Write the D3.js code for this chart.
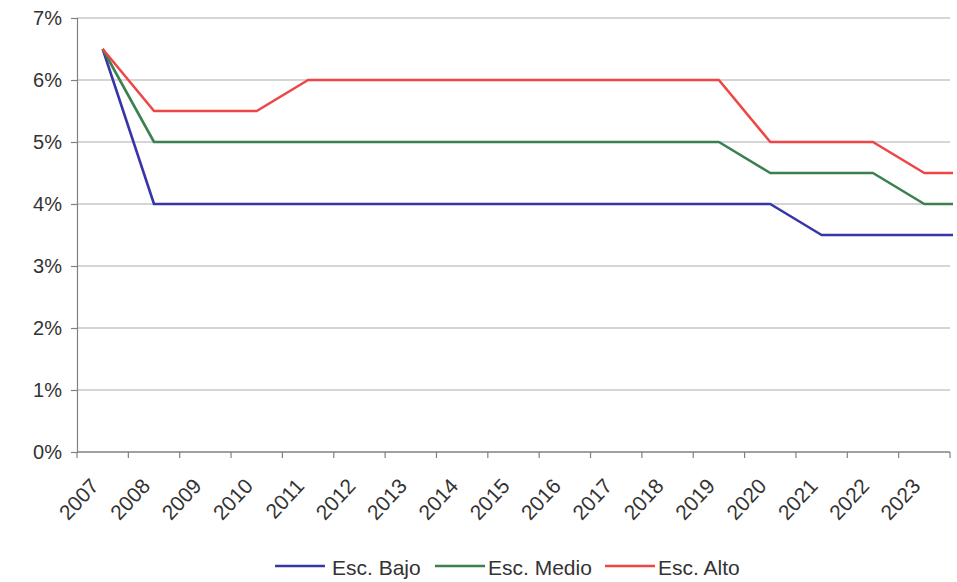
<!DOCTYPE html>
<html>
<head>
<meta charset="utf-8">
<script src="https://cdn.jsdelivr.net/npm/d3@7"></script>
<style>
  html, body { margin: 0; padding: 0; background: #fff; }
  svg { display: block; font-family: "Liberation Sans", Arial, sans-serif; }
</style>
</head>
<body>
<svg id="chart" width="957" height="582"></svg>
<script>
// Years on the category axis
const years = ["2007","2008","2009","2010","2011","2012","2013","2014","2015","2016","2017","2018","2019","2020","2021","2022","2023"];

// Scenario rates (%)
const bajo  = [6.5, 4.0, 4.0, 4.0, 4.0, 4.0, 4.0, 4.0, 4.0, 4.0, 4.0, 4.0, 4.0, 4.0, 3.5, 3.5, 3.5];
const medio = [6.5, 5.0, 5.0, 5.0, 5.0, 5.0, 5.0, 5.0, 5.0, 5.0, 5.0, 5.0, 5.0, 4.5, 4.5, 4.5, 4.0];
const alto  = [6.5, 5.5, 5.5, 5.5, 6.0, 6.0, 6.0, 6.0, 6.0, 6.0, 6.0, 6.0, 6.0, 5.0, 5.0, 5.0, 4.5];

const seriesNames = ["Esc. Bajo", "Esc. Medio", "Esc. Alto"];
const yTicks = [0, 1, 2, 3, 4, 5, 6, 7];

const colors = ["#3636a8", "#3a8050", "#ee4646"];
const series = [bajo, medio, alto];

const svg = d3.select("#chart");
const plotLeft = 77, plotRight = 950, plotTop = 18, plotBottom = 452;

const x = d3.scaleBand().domain(years).range([plotLeft, plotRight]).paddingInner(0).paddingOuter(0);
const y = d3.scaleLinear().domain([0, 7]).range([plotBottom, plotTop]);

// horizontal gridlines
svg.append("g").selectAll("line")
  .data(yTicks.filter(d => d > 0))
  .join("line")
  .attr("x1", plotLeft).attr("x2", plotRight)
  .attr("y1", d => y(d)).attr("y2", d => y(d))
  .attr("stroke", "#ababab").attr("stroke-width", 1);

// y axis
const yAxis = svg.append("g")
  .attr("transform", `translate(${plotLeft},0)`)
  .call(d3.axisLeft(y).tickValues(yTicks).tickFormat(d => d + "%").tickSize(6).tickPadding(9));
yAxis.select(".domain").attr("stroke", "#808080").attr("stroke-width", 1.2);
yAxis.selectAll(".tick line").attr("stroke", "#808080").attr("stroke-width", 1.2);
yAxis.selectAll(".tick text")
  .attr("font-size", 20).attr("fill", "#333")
  .attr("font-family", "'Liberation Sans', Arial, sans-serif");

// x axis: tick marks on category boundaries
const xAxisG = svg.append("g");
xAxisG.append("line")
  .attr("x1", plotLeft).attr("x2", plotRight)
  .attr("y1", plotBottom).attr("y2", plotBottom)
  .attr("stroke", "#808080").attr("stroke-width", 1.4);
const boundaries = years.map(d => x(d)).concat([x(years[years.length - 1]) + x.bandwidth()]);
xAxisG.selectAll("line.tick")
  .data(boundaries)
  .join("line")
  .attr("class", "tick")
  .attr("x1", d => d).attr("x2", d => d)
  .attr("y1", plotBottom).attr("y2", plotBottom + 6)
  .attr("stroke", "#808080").attr("stroke-width", 1.2);

xAxisG.selectAll("text")
  .data(years)
  .join("text")
  .attr("transform", d => `translate(${x(d) + x.bandwidth() / 2 - 8},${plotBottom + 30}) rotate(-47)`)
  .attr("text-anchor", "end")
  .attr("dy", "0.35em")
  .attr("font-size", 21)
  .attr("fill", "#333")
  .text(d => d);

// lines (flat continuation to the plot edge after the last year)
const line = d3.line()
  .x(d => d[0])
  .y(d => y(d[1]));

series.forEach((vals, i) => {
  const pts = years.map((yr, j) => [x(yr) + x.bandwidth() / 2, vals[j]]);
  pts.push([plotRight + 3, vals[vals.length - 1]]);
  svg.append("path")
    .datum(pts)
    .attr("fill", "none")
    .attr("stroke", colors[i])
    .attr("stroke-width", 2.6)
    .attr("stroke-linejoin", "round")
    .attr("d", line);
});

// legend
const legendItems = [
  { x: 275, tx: 332 },
  { x: 435, tx: 488 },
  { x: 605, tx: 658 }
];
const legend = svg.append("g");
seriesNames.forEach((name, i) => {
  const it = legendItems[i];
  legend.append("line")
    .attr("x1", it.x).attr("x2", it.x + 50)
    .attr("y1", 566).attr("y2", 566)
    .attr("stroke", colors[i]).attr("stroke-width", 2.6);
  legend.append("text")
    .attr("x", it.tx).attr("y", 575)
    .attr("font-size", 21)
    .attr("fill", "#333")
    .text(name);
});
</script>
</body>
</html>
